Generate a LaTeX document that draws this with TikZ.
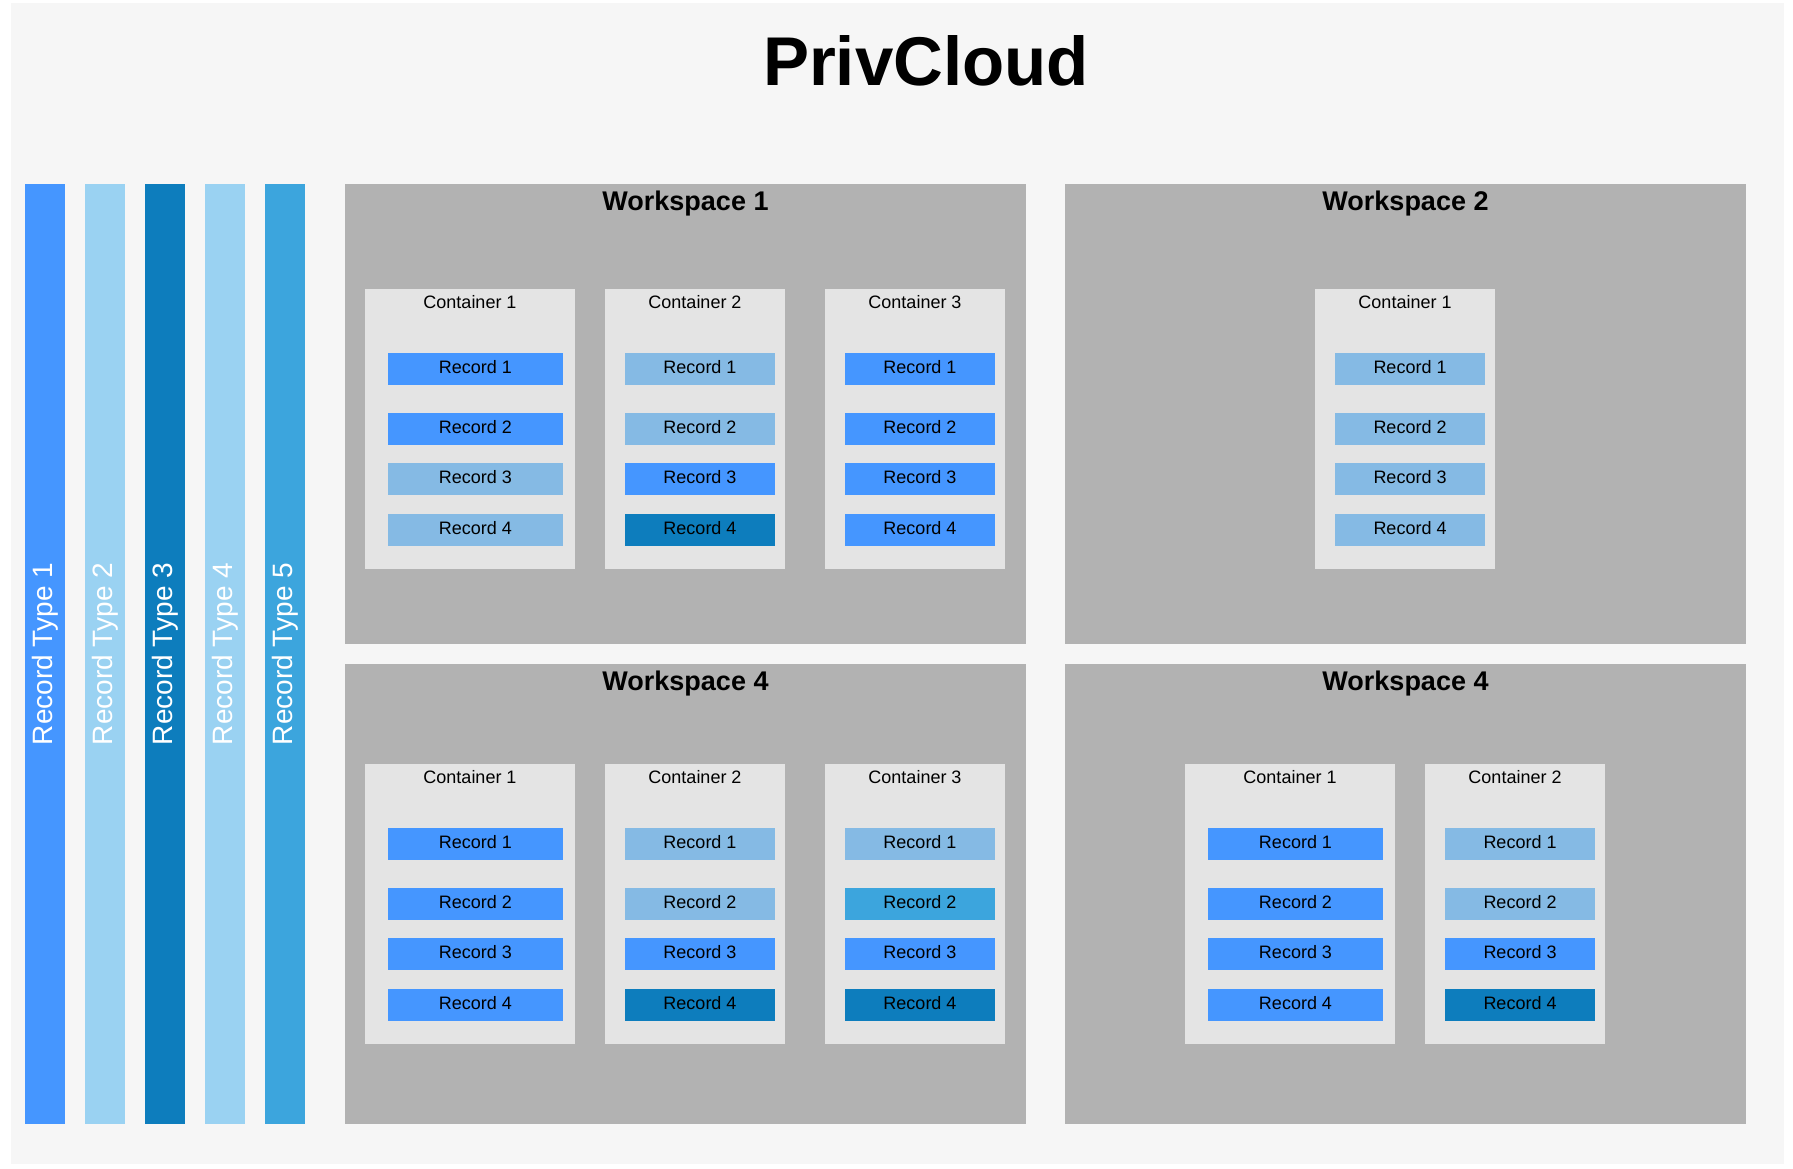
\documentclass[tikz,border=0pt]{standalone}
\usepackage{fontspec}
\setmainfont{Liberation Sans}
\usetikzlibrary{calc}
\definecolor{bgc}{HTML}{F6F6F6}
\definecolor{wsc}{HTML}{B2B2B2}
\definecolor{ctc}{HTML}{E4E4E4}
\definecolor{bb}{HTML}{4596FF}
\definecolor{lb}{HTML}{85BAE4}
\definecolor{db}{HTML}{0D7DBD}
\definecolor{mb}{HTML}{3CA5DD}
\definecolor{pb}{HTML}{9AD2F2}
\newcommand{\wsbox}[5]{% name, x, y, w, title
  \node[wsstyle, minimum width=#4, minimum height=460] (#1) at (#2,#3) {};
  \node[wstitle] (#1t) at ($(#1.north)+(0,26)$) {#5};}
\newcommand{\ctbox}[5]{% name, x, y, w, title
  \node[ctstyle, minimum width=#4, minimum height=280] (#1) at (#2,#3) {};
  \node[cttitle] (#1t) at ($(#1.north)+(0,19.5)$) {#5};}
\newcommand{\recbox}[6]{% name, x, y, w, colour, label
  \node[recstyle, fill=#5, minimum width=#4] (#1) at (#2,#3) {#6};}
\begin{document}
\begin{tikzpicture}[x=1pt,y=-1pt,
  wsstyle/.style={anchor=north west, fill=wsc, draw=none, inner sep=0pt, outer sep=0pt},
  wstitle/.style={anchor=base, font=\fontsize{27}{31}\selectfont\bfseries, inner sep=0pt},
  ctstyle/.style={anchor=north west, fill=ctc, draw=none, inner sep=0pt, outer sep=0pt},
  cttitle/.style={anchor=base, font=\fontsize{18}{21}\selectfont, inner sep=0pt},
  recstyle/.style={anchor=north west, draw=none, inner sep=0pt, outer sep=0pt, minimum height=32, text height=8.5pt, text depth=0pt, font=\fontsize{18}{21}\selectfont, text=black},
  barstyle/.style={draw=none, inner sep=0pt, outer sep=0pt, minimum width=940, minimum height=40, rotate=90, font=\fontsize{28}{32}\selectfont, text=white},
]
\useasboundingbox (0,0) rectangle (1793,1168);
\fill[white] (0,0) rectangle (1793,1168);
\fill[bgc] (11,3) rectangle (1784,1164);
\node[anchor=base, font=\fontsize{69}{83}\selectfont\bfseries, inner sep=0pt] (title) at (926,85) {PrivCloud};
% bars
\node[barstyle, fill=bb] (rt1) at (45,654) {Record Type 1};
\node[barstyle, fill=pb] (rt2) at (105,654) {Record Type 2};
\node[barstyle, fill=db] (rt3) at (165,654) {Record Type 3};
\node[barstyle, fill=pb] (rt4) at (225,654) {Record Type 4};
\node[barstyle, fill=mb] (rt5) at (285,654) {Record Type 5};
% workspaces
\wsbox{wa}{345}{184}{681}{Workspace 1}
\wsbox{wb}{1065}{184}{681}{Workspace 2}
\wsbox{wc}{345}{664}{681}{Workspace 4}
\wsbox{wd}{1065}{664}{681}{Workspace 4}
% Workspace 1
\ctbox{wa1}{365}{289}{210}{Container 1}
\recbox{wa1a}{388}{353}{175}{bb}{Record 1}
\recbox{wa1b}{388}{413}{175}{bb}{Record 2}
\recbox{wa1c}{388}{463}{175}{lb}{Record 3}
\recbox{wa1d}{388}{514}{175}{lb}{Record 4}
\ctbox{wa2}{605}{289}{180}{Container 2}
\recbox{wa2a}{625}{353}{150}{lb}{Record 1}
\recbox{wa2b}{625}{413}{150}{lb}{Record 2}
\recbox{wa2c}{625}{463}{150}{bb}{Record 3}
\recbox{wa2d}{625}{514}{150}{db}{Record 4}
\ctbox{wa3}{825}{289}{180}{Container 3}
\recbox{wa3a}{845}{353}{150}{bb}{Record 1}
\recbox{wa3b}{845}{413}{150}{bb}{Record 2}
\recbox{wa3c}{845}{463}{150}{bb}{Record 3}
\recbox{wa3d}{845}{514}{150}{bb}{Record 4}
% Workspace 2
\ctbox{wb1}{1315}{289}{180}{Container 1}
\recbox{wb1a}{1335}{353}{150}{lb}{Record 1}
\recbox{wb1b}{1335}{413}{150}{lb}{Record 2}
\recbox{wb1c}{1335}{463}{150}{lb}{Record 3}
\recbox{wb1d}{1335}{514}{150}{lb}{Record 4}
% Workspace 4 (left)
\ctbox{wc1}{365}{764}{210}{Container 1}
\recbox{wc1a}{388}{828}{175}{bb}{Record 1}
\recbox{wc1b}{388}{888}{175}{bb}{Record 2}
\recbox{wc1c}{388}{938}{175}{bb}{Record 3}
\recbox{wc1d}{388}{989}{175}{bb}{Record 4}
\ctbox{wc2}{605}{764}{180}{Container 2}
\recbox{wc2a}{625}{828}{150}{lb}{Record 1}
\recbox{wc2b}{625}{888}{150}{lb}{Record 2}
\recbox{wc2c}{625}{938}{150}{bb}{Record 3}
\recbox{wc2d}{625}{989}{150}{db}{Record 4}
\ctbox{wc3}{825}{764}{180}{Container 3}
\recbox{wc3a}{845}{828}{150}{lb}{Record 1}
\recbox{wc3b}{845}{888}{150}{mb}{Record 2}
\recbox{wc3c}{845}{938}{150}{bb}{Record 3}
\recbox{wc3d}{845}{989}{150}{db}{Record 4}
% Workspace 4 (right)
\ctbox{wd1}{1185}{764}{210}{Container 1}
\recbox{wd1a}{1208}{828}{175}{bb}{Record 1}
\recbox{wd1b}{1208}{888}{175}{bb}{Record 2}
\recbox{wd1c}{1208}{938}{175}{bb}{Record 3}
\recbox{wd1d}{1208}{989}{175}{bb}{Record 4}
\ctbox{wd2}{1425}{764}{180}{Container 2}
\recbox{wd2a}{1445}{828}{150}{lb}{Record 1}
\recbox{wd2b}{1445}{888}{150}{lb}{Record 2}
\recbox{wd2c}{1445}{938}{150}{bb}{Record 3}
\recbox{wd2d}{1445}{989}{150}{db}{Record 4}
\end{tikzpicture}
\end{document}
